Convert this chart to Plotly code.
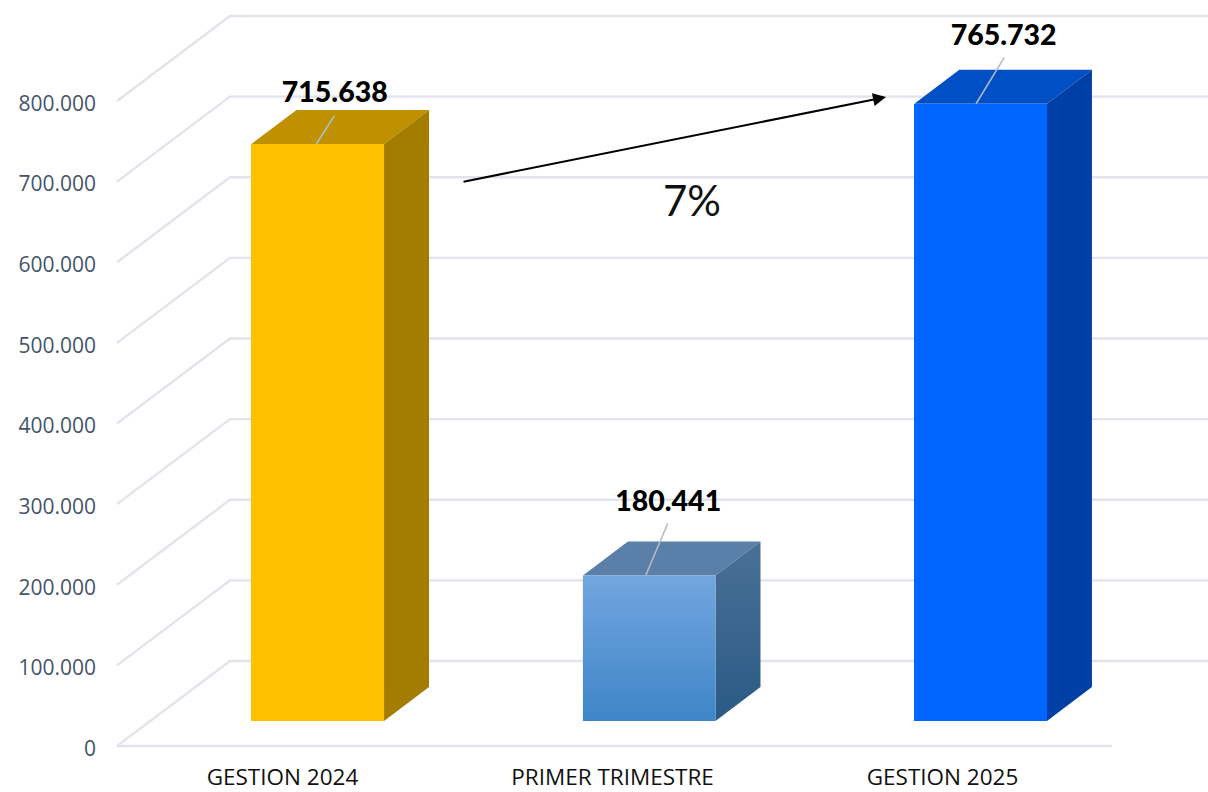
import plotly.graph_objects as go

# ---- data ----
categories = ["GESTION 2024", "PRIMER TRIMESTRE", "GESTION 2025"]
values = [715638, 180441, 765732]
y_ticks = [0, 100000, 200000, 300000, 400000, 500000, 600000, 700000, 800000]
y_tick_labels = ["0", "100.000", "200.000", "300.000", "400.000", "500.000", "600.000", "700.000", "800.000"]
growth_label = "7%"

# ---- styling / layout constants ----
PX_X = 331.45        # pixels per category
PX_Y = 0.00080625    # pixels per value unit
BAR_W = 0.40
BASE = 31000         # bars float over the floor of the 3D box
DEPTH_X = 45 / PX_X
DEPTH_Y = 34 / PX_Y
WALL_X = 113 / PX_X
WALL_Y = 85 / PX_Y
X_MIN = (112 - 317.75) / PX_X
X_MAX = (1208 - 317.75) / PX_X
Y_MIN = -20 / PX_Y
Y_MAX = 746 / PX_Y
WALL_LEFT = (117 - 317.75) / PX_X
FLOOR_RIGHT = (1112 - 317.75) / PX_X
LABEL_DROP = 2.5 / PX_Y      # y tick labels sit slightly under their gridlines
GRID = "#E1E4EC"

front = ["#FFC000", "#5B9BD5", "#0066FF"]
top = ["#BF9000", "#5A7FA8", "#004FC4"]
side = ["#A37C00", "#3E6A93", "#0040A6"]
grad_front = [[0, "#3F85C8"], [1, "#72A6DF"]]
grad_side = [[0, "#2A5A85"], [1, "#4A7096"]]
label_dx = [17, 19, 23]      # label offset from bar centre, px
label_dy = [49, 72, 66]      # label height over bar top, px
lead_x0 = [-1.5, -3.5, -4.5]   # leader start from bar centre, px
lead_x1 = [16.5, 18.5, 23.5]   # leader end, px
lead_dy = [28, 52, 46]       # leader height, px
tick_shift = [-0.1064, -0.1107, -0.1151]

fig = go.Figure()

# front faces
fig.add_trace(go.Bar(
    x=list(range(3)), y=values, base=BASE, width=BAR_W,
    marker=dict(color=front, line=dict(width=0)),
    showlegend=False, hoverinfo="skip",
))

for i, v in enumerate(values):
    xl, xr = i - BAR_W / 2, i + BAR_W / 2
    yb, yt = BASE, BASE + v
    # top face
    fig.add_trace(go.Scatter(
        x=[xl, xr, xr + DEPTH_X, xl + DEPTH_X, xl],
        y=[yt, yt, yt + DEPTH_Y, yt + DEPTH_Y, yt],
        mode="lines", line=dict(width=0), fill="toself", fillcolor=top[i],
        showlegend=False, hoverinfo="skip"))
    # side face
    side_kw = dict(fillcolor=side[i])
    if i == 1:
        side_kw = dict(fillgradient=dict(type="vertical", colorscale=grad_side))
    fig.add_trace(go.Scatter(
        x=[xr, xr + DEPTH_X, xr + DEPTH_X, xr, xr],
        y=[yt, yt + DEPTH_Y, yb + DEPTH_Y, yb, yt],
        mode="lines", line=dict(width=0), fill="toself",
        showlegend=False, hoverinfo="skip", **side_kw))
    if i == 1:
        fig.add_trace(go.Scatter(
            x=[xl, xr, xr, xl, xl], y=[yt, yt, yb, yb, yt],
            mode="lines", line=dict(width=0), fill="toself",
            fillgradient=dict(type="vertical", colorscale=grad_front),
            showlegend=False, hoverinfo="skip"))
    # leader line
    fig.add_trace(go.Scatter(
        x=[i + lead_x0[i] / PX_X, i + lead_x1[i] / PX_X],
        y=[yt, yt + lead_dy[i] / PX_Y],
        mode="lines", line=dict(color="#B4BCC8", width=1.6),
        showlegend=False, hoverinfo="skip"))

# value labels
fig.add_trace(go.Scatter(
    x=[i + label_dx[i] / PX_X for i in range(3)],
    y=[BASE + v + label_dy[i] / PX_Y for i, v in enumerate(values)],
    mode="text",
    text=[f"{v:,}".replace(",", ".") for v in values],
    textposition="middle center",
    textfont=dict(family="Lato", size=28.5, color="#000000", weight=900),
    showlegend=False, hoverinfo="skip"))

# gridlines of the 3D box, on axis scale
shapes = []
for t in y_ticks:
    shapes.append(dict(
        type="path", xref="x", yref="y", layer="below",
        path=f"M {WALL_LEFT} {t} L {WALL_LEFT + WALL_X} {t + WALL_Y} L {X_MAX} {t + WALL_Y}",
        line=dict(color=GRID, width=2.4)))
shapes.append(dict(
    type="line", xref="x", yref="y", layer="below",
    x0=WALL_LEFT, x1=FLOOR_RIGHT, y0=0, y1=0,
    line=dict(color=GRID, width=2.4)))

annotations = [
    dict(x=(886 - 317.75) / PX_X, y=(746 - 97) / PX_Y, ax=(462 - 317.75) / PX_X, ay=(746 - 182) / PX_Y,
         xref="x", yref="y", axref="x", ayref="y", text="", showarrow=True,
         arrowhead=2, arrowsize=1.3, arrowwidth=2, arrowcolor="#000000"),
    dict(x=(692 - 317.75) / PX_X, y=(746 - 200) / PX_Y, xref="x", yref="y",
         text=growth_label, showarrow=False, xanchor="center", yanchor="middle",
         font=dict(family="Lato", size=42, color="#111111")),
]

fig.update_layout(
    width=1208, height=792,
    margin=dict(l=112, r=0, t=0, b=26, autoexpand=False),
    paper_bgcolor="#FFFFFF", plot_bgcolor="#FFFFFF",
    shapes=shapes, annotations=annotations, bargap=0,
    xaxis=dict(
        range=[X_MIN, X_MAX], showgrid=False, zeroline=False, showline=False,
        automargin=False,
        tickmode="array",
        tickvals=[i + tick_shift[i] for i in range(3)], ticktext=categories,
        ticks="", tickfont=dict(family="Open Sans", size=22.5, color="#111111"),
        ticklabelstandoff=-5,
    ),
    yaxis=dict(
        range=[Y_MIN, Y_MAX], showgrid=False, zeroline=False, showline=False,
        automargin=False,
        tickmode="array", tickvals=[t - LABEL_DROP for t in y_ticks], ticktext=y_tick_labels,
        ticks="", tickfont=dict(family="Open Sans", size=21, color="#44546A"),
        ticklabelstandoff=15,
    ),
)

fig.write_html("out.html", config=dict(displayModeBar=False),
               post_script="document.body.style.margin='0';document.documentElement.style.overflow='hidden';")
